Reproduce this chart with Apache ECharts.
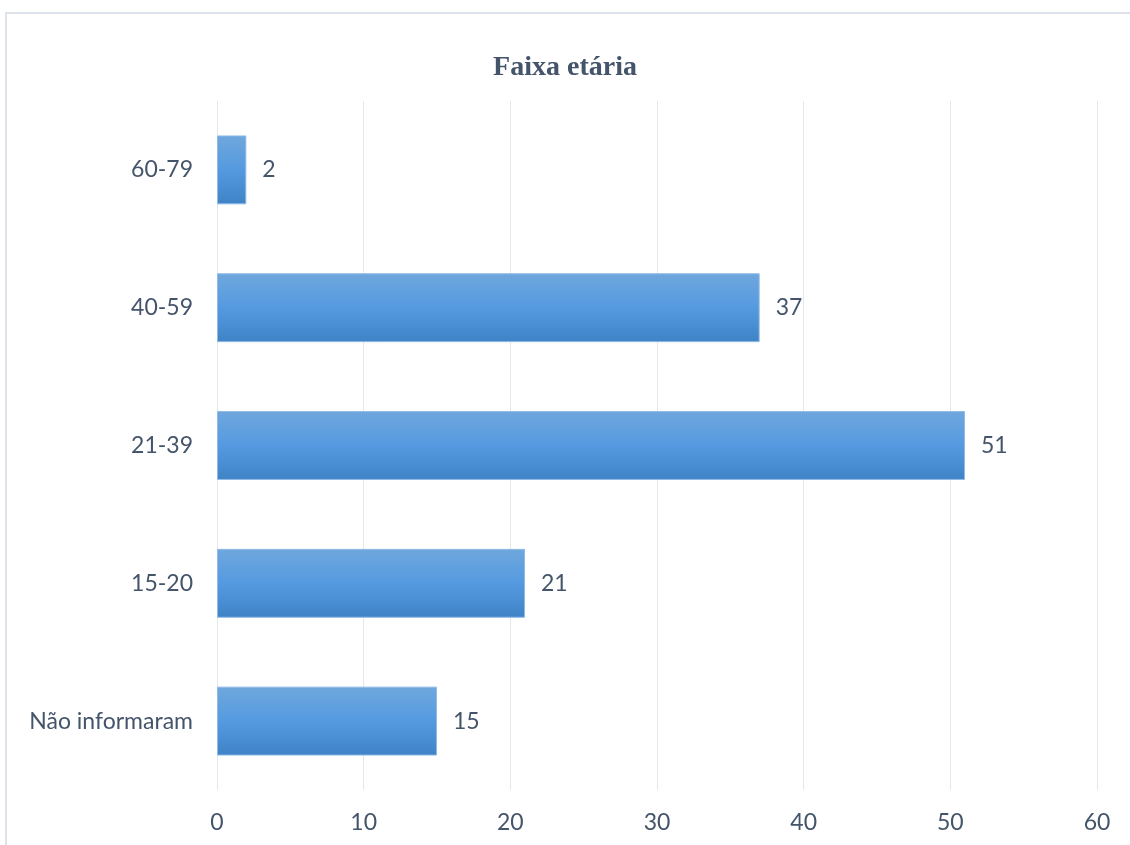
<!DOCTYPE html>
<html><head><meta charset="utf-8">
<style>html,body{margin:0;padding:0;background:#fff}#c{width:1130px;height:845px}</style>
<script src="https://cdn.jsdelivr.net/npm/echarts@6/dist/echarts.min.js"></script>
</head><body><div id="c"></div>
<script>
const categories = ['Não informaram', '15-20', '21-39', '40-59', '60-79'];
const values = [15, 21, 51, 37, 2];
const xTicks = { min: 0, max: 60, interval: 10 };
const chart = echarts.init(document.getElementById('c'));
const txt = '#44546a';
chart.setOption({
  animation: false,
  backgroundColor: '#fff',
  title: { text: 'Faixa etária', left: 'center', top: 49,
    textStyle: { fontFamily: 'Liberation Serif', fontWeight: 'bold', fontSize: 28, color: txt } },
  graphic: [{ type: 'rect', shape: { x: 6, y: 13, width: 1200, height: 900 },
    style: { fill: 'none', stroke: '#dde2ea', lineWidth: 2 }, silent: true }],
  grid: { left: 217, right: 33, top: 101, bottom: 55 },
  xAxis: { type: 'value', min: xTicks.min, max: xTicks.max, interval: xTicks.interval,
    axisLine: { show: false }, axisTick: { show: false },
    splitLine: { show: true, lineStyle: { color: '#e3e6ea', width: 1 } },
    axisLabel: { margin: 21, fontFamily: 'Lato', fontSize: 23, color: txt } },
  yAxis: { type: 'category', data: categories,
    axisLine: { show: false }, axisTick: { show: false },
    axisLabel: { margin: 24, fontFamily: 'Lato', fontSize: 23, color: txt } },
  series: [{ type: 'bar', data: values, barWidth: '50%',
    itemStyle: { borderColor: '#8fbbe6', borderWidth: 1,
      color: new echarts.graphic.LinearGradient(0, 0, 0, 1, [
        { offset: 0, color: '#6fa7dd' }, { offset: 0.5, color: '#559ae0' }, { offset: 1, color: '#3f83c6' }]) },
    label: { show: true, position: 'right', distance: 16, fontFamily: 'Lato', fontSize: 23, color: txt } }]
});
</script></body></html>
